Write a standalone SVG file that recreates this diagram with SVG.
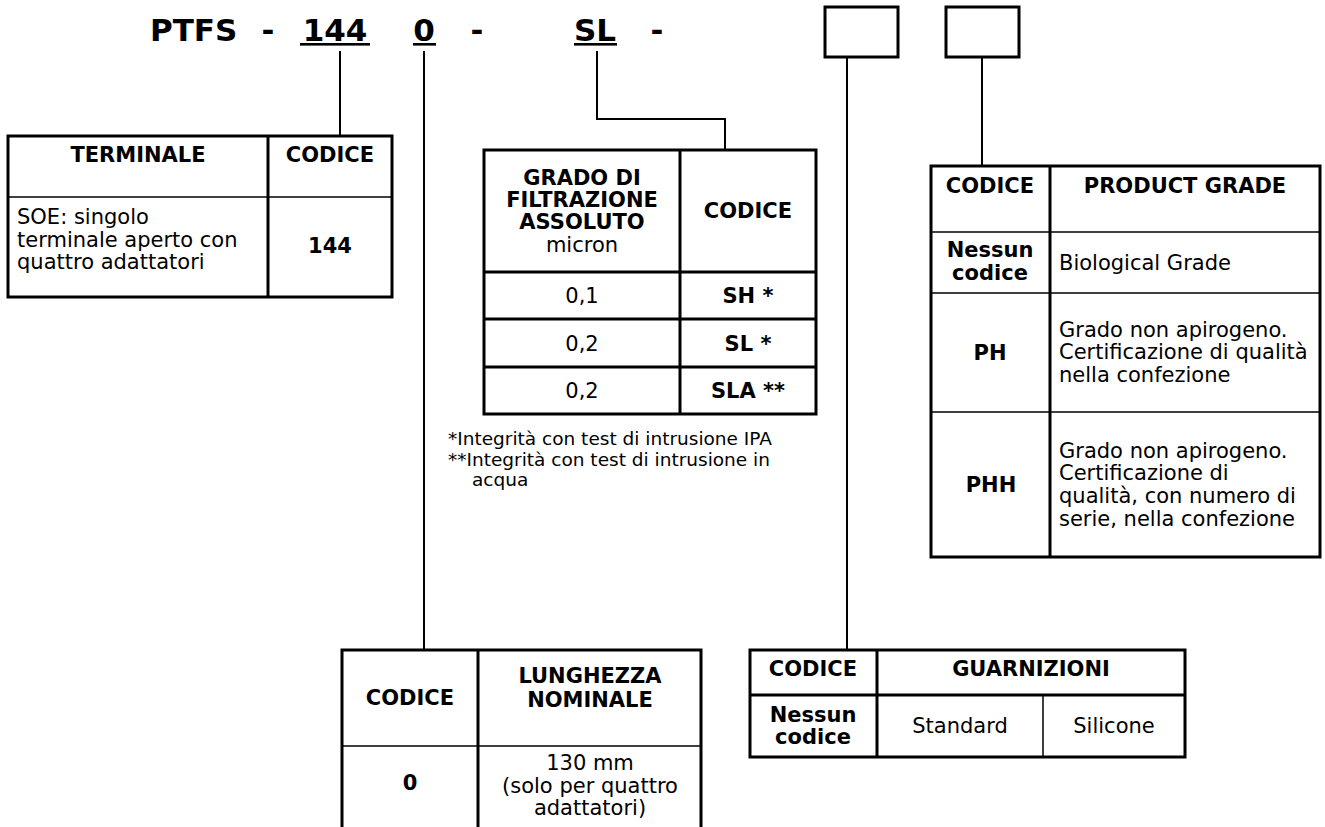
<svg xmlns="http://www.w3.org/2000/svg" width="1325" height="827" viewBox="0 0 1325 827">
<style>
text{font-family:"DejaVu Sans",Verdana,sans-serif;fill:#000}
.h{font-size:31px;font-weight:bold}
.b{font-size:21px;font-weight:bold}
.r{font-size:21px}
.f{font-size:18.5px}
.m{text-anchor:middle}
.tk{fill:none;stroke:#000;stroke-width:3}
.tn{fill:none;stroke:#000;stroke-width:1.5}
.cn{fill:none;stroke:#000;stroke-width:2}
</style>
<rect width="1325" height="827" fill="#fff"/>
<g id="header">
<text class="h" x="150" y="41">PTFS</text>
<text class="h m" x="268" y="41">-</text>
<text class="h m" x="335" y="41">144</text>
<rect x="300" y="43" width="70" height="2.6"/>
<text class="h m" x="424" y="41">0</text>
<rect x="413" y="43" width="23" height="2.6"/>
<text class="h m" x="477" y="41">-</text>
<text class="h m" x="595" y="41">SL</text>
<rect x="574" y="43" width="43" height="2.6"/>
<text class="h m" x="657" y="41">-</text>
<rect class="tk" x="825" y="7" width="73" height="50"/>
<rect class="tk" x="946" y="7" width="73" height="50"/>
</g>
<g id="connectors">
<path class="cn" d="M340 51V135"/>
<path class="cn" d="M424 51V650"/>
<path class="cn" d="M597 51V119H725V150"/>
<path class="cn" d="M847 57V650"/>
<path class="cn" d="M982 57V166"/>
</g>
<g id="terminale">
<rect class="tk" x="8" y="136" width="384" height="161"/>
<path class="tk" d="M268 136V297"/>
<path class="tn" d="M8 197H392"/>
<text class="b m" x="138" y="162">TERMINALE</text>
<text class="b m" x="330" y="162">CODICE</text>
<text class="r" x="17" y="224">SOE: singolo</text>
<text class="r" x="17" y="247">terminale aperto con</text>
<text class="r" x="17" y="269">quattro adattatori</text>
<text class="b m" x="330" y="253">144</text>
</g>
<g id="grado">
<rect class="tk" x="484" y="150" width="332" height="264"/>
<path class="tk" d="M680 150V414M484 272H816M484 319H816M484 367H816"/>
<text class="b m" x="582" y="185">GRADO DI</text>
<text class="b m" x="582" y="207">FILTRAZIONE</text>
<text class="b m" x="582" y="229">ASSOLUTO</text>
<text class="r m" x="582" y="252">micron</text>
<text class="b m" x="748" y="218">CODICE</text>
<text class="r m" x="582" y="303">0,1</text>
<text class="b m" x="748" y="303">SH *</text>
<text class="r m" x="582" y="351">0,2</text>
<text class="b m" x="748" y="351">SL *</text>
<text class="r m" x="582" y="398">0,2</text>
<text class="b m" x="748" y="398">SLA **</text>
</g>
<g id="note">
<text class="f" x="448" y="445">*Integrità con test di intrusione IPA</text>
<text class="f" x="448" y="466">**Integrità con test di intrusione in</text>
<text class="f" x="472" y="486">acqua</text>
</g>
<g id="product-grade">
<rect class="tk" x="931" y="166" width="389" height="391"/>
<path class="tk" d="M1050 166V557"/>
<path class="tn" d="M931 232H1320M931 293H1320M931 412H1320"/>
<text class="b m" x="990" y="193">CODICE</text>
<text class="b m" x="1185" y="193">PRODUCT GRADE</text>
<text class="b m" x="990" y="257">Nessun</text>
<text class="b m" x="990" y="280">codice</text>
<text class="r" x="1059" y="270">Biological Grade</text>
<text class="b m" x="990" y="360">PH</text>
<text class="r" x="1059" y="337">Grado non apirogeno.</text>
<text class="r" x="1059" y="359">Certificazione di qualità</text>
<text class="r" x="1059" y="382">nella confezione</text>
<text class="b m" x="991" y="492">PHH</text>
<text class="r" x="1059" y="458">Grado non apirogeno.</text>
<text class="r" x="1059" y="480">Certificazione di</text>
<text class="r" x="1059" y="503">qualità, con numero di</text>
<text class="r" x="1059" y="526">serie, nella confezione</text>
</g>
<g id="lunghezza">
<path class="tk" d="M342 827V650H701V827M478 650V827"/>
<path class="tn" d="M342 746H701"/>
<text class="b m" x="410" y="705">CODICE</text>
<text class="b m" x="590" y="683">LUNGHEZZA</text>
<text class="b m" x="590" y="707">NOMINALE</text>
<text class="b m" x="410" y="790">0</text>
<text class="r m" x="590" y="770">130 mm</text>
<text class="r m" x="590" y="793">(solo per quattro</text>
<text class="r m" x="590" y="815">adattatori)</text>
</g>
<g id="guarnizioni">
<rect class="tk" x="750" y="650" width="435" height="107"/>
<path class="tk" d="M877 650V757M750 695H1185"/>
<path class="tn" d="M1043 695V757"/>
<text class="b m" x="813" y="676">CODICE</text>
<text class="b m" x="1031" y="676">GUARNIZIONI</text>
<text class="b m" x="813" y="722">Nessun</text>
<text class="b m" x="813" y="744">codice</text>
<text class="r m" x="960" y="733">Standard</text>
<text class="r m" x="1114" y="733">Silicone</text>
</g>
</svg>
